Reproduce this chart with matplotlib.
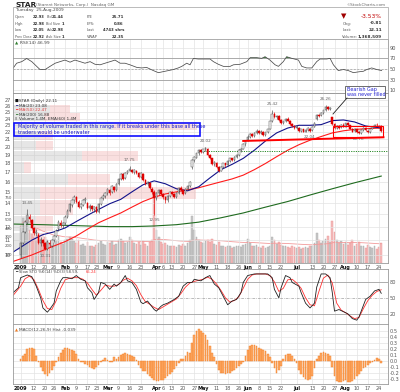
import pandas as pd
import matplotlib
matplotlib.use("Agg")
import matplotlib.pyplot as plt
from matplotlib.patches import Rectangle

LARG, ALT = 400, 392

# --- pregões jan-ago 2009 ---
FERIADOS = ["2009-01-19", "2009-02-16", "2009-04-10", "2009-05-25", "2009-07-03"]
dias = pd.bdate_range("2009-01-02", "2009-08-25")
dias = dias[~dias.isin(pd.to_datetime(FERIADOS))]

datas_eixo = ["2009-01-02", "2009-01-12", "2009-01-20", "2009-01-26", "2009-02-02", "2009-02-09",
              "2009-02-17", "2009-02-23", "2009-03-02", "2009-03-09", "2009-03-16", "2009-03-23",
              "2009-04-01", "2009-04-06", "2009-04-13", "2009-04-20", "2009-04-27", "2009-05-01",
              "2009-05-11", "2009-05-18", "2009-05-26", "2009-06-01", "2009-06-08", "2009-06-15",
              "2009-06-22", "2009-07-01", "2009-07-13", "2009-07-20", "2009-07-27", "2009-08-03",
              "2009-08-10", "2009-08-17", "2009-08-24"]
rotulos_eixo = ["2009", "12", "20", "26", "Feb", "9", "17", "23", "Mar", "9", "16", "23", "Apr", "6",
                "13", "20", "27", "May", "11", "18", "26", "Jun", "8", "15", "22", "Jul", "13", "20",
                "27", "Aug", "10", "17", "24"]
MESES = {"2009", "Feb", "Mar", "Apr", "May", "Jun", "Jul", "Aug"}

# --- OHLC diário ---
abertura = [10.0, 10.8, 11.6, 12.3, 12.8, 12.5, 11.9, 11.5, 11.4, 10.8, 11.0, 10.8, 10.4, 10.8, 10.6,
            11.0, 11.3, 11.8, 12.3, 12.1,
            12.3, 12.8, 13.3, 13.8, 14.2, 14.5, 14.1, 13.6, 13.8, 14.2, 14.0, 13.5, 13.7, 13.4, 13.6,
            13.2, 13.9, 14.4, 14.6,
            14.9, 15.2, 15.0, 15.5, 15.2, 15.8, 16.3, 16.8, 16.4, 16.9, 17.2, 17.3, 17.0, 17.2, 16.9,
            16.5, 16.8, 16.2, 15.8, 15.9, 15.3, 15.0,
            14.4, 14.9, 15.2, 14.8, 14.5, 14.2, 14.6, 15.0, 14.8, 14.5, 14.9, 15.4, 15.2, 14.9, 15.3,
            15.6, 17.6, 18.4, 18.7, 19.2, 19.6,
            19.4, 19.7, 19.8, 19.0, 18.6, 17.9, 18.1, 17.6, 17.2, 17.6, 18.0, 17.8, 18.3, 18.6, 18.4,
            18.8, 19.0, 19.6, 19.8, 20.4,
            20.9, 21.4, 21.8, 21.5, 21.9, 22.2, 21.9, 22.1, 21.6, 22.0, 22.5, 23.6, 24.7, 24.2, 24.4,
            23.8, 23.3, 23.6, 24.0, 23.7, 23.2, 22.9,
            22.6, 22.6, 22.2, 22.4, 22.1, 22.3, 22.5, 22.3, 22.8, 23.9, 24.6, 24.5, 24.9, 25.3, 25.9,
            25.5, 24.2, 23.2, 22.6, 22.9, 22.7, 23.1,
            22.8, 23.3, 23.0, 22.5, 22.2, 22.4, 22.0, 21.9, 22.3, 22.6, 22.2, 22.0, 22.5, 22.8, 23.1,
            22.9, 22.93]
maxima = [10.9, 11.7, 12.5, 13.45, 13.0, 12.6, 12.0, 11.8, 11.5, 11.2, 11.1, 10.9, 11.0, 11.0, 11.1,
          11.4, 11.8, 12.5, 12.5, 12.4,
          12.9, 13.4, 14.0, 14.3, 14.7, 14.6, 14.2, 14.0, 14.3, 14.5, 14.1, 13.9, 13.8, 13.7, 13.7,
          14.0, 14.5, 14.8, 15.0,
          15.4, 15.3, 15.7, 15.6, 15.9, 16.4, 16.9, 16.9, 17.0, 17.3, 17.75, 17.4, 17.4, 17.3, 17.0,
          17.0, 16.9, 16.3, 16.1, 16.0, 15.5, 15.2,
          15.0, 15.3, 15.3, 14.9, 14.6, 14.7, 15.1, 15.1, 14.9, 15.0, 15.5, 15.6, 15.3, 15.4, 15.7,
          16.1, 18.5, 18.9, 19.3, 19.7, 19.8,
          19.8, 20.02, 19.9, 19.1, 18.7, 18.3, 18.2, 17.7, 17.7, 18.1, 18.1, 18.4, 18.7, 18.7, 18.9,
          19.1, 19.7, 19.9, 20.5, 20.9,
          21.6, 21.9, 21.9, 22.0, 22.4, 22.3, 22.3, 22.2, 22.1, 22.5, 23.7, 25.42, 25.0, 24.6, 24.5,
          23.9, 23.7, 24.1, 24.2, 23.8, 23.3, 23.0,
          23.0, 22.7, 22.5, 22.5, 22.4, 22.7, 22.6, 22.9, 23.5, 24.7, 24.8, 25.0, 25.4, 26.26, 26.0,
          25.9, 24.3, 23.4, 23.0, 23.1, 23.2, 23.3,
          23.4, 23.5, 23.1, 22.6, 22.6, 22.5, 22.2, 22.4, 22.7, 22.7, 22.3, 22.6, 22.9, 23.2, 23.3,
          23.1, 22.98]
minima = [9.8, 10.7, 11.5, 12.2, 12.4, 11.8, 11.4, 11.3, 10.7, 10.6, 10.6, 10.31, 10.35, 10.5, 10.5,
          10.9, 11.2, 11.7, 12.0, 11.9,
          12.1, 12.7, 13.2, 13.6, 14.0, 14.0, 13.5, 13.4, 13.7, 14.0, 13.4, 13.3, 13.3, 13.2, 13.1,
          13.1, 13.8, 14.2, 14.4,
          14.7, 14.7, 14.9, 15.0, 15.1, 15.7, 16.2, 16.2, 16.3, 16.8, 17.1, 16.9, 16.8, 16.8, 16.4,
          16.4, 16.1, 15.7, 15.6, 15.3, 14.8, 12.95,
          14.2, 14.7, 14.7, 14.3, 14.0, 14.1, 14.5, 14.7, 14.4, 14.4, 14.8, 15.1, 14.7, 14.8, 15.2,
          15.5, 17.4, 18.2, 18.6, 19.0, 19.2,
          19.3, 19.5, 18.9, 18.5, 17.8, 17.7, 17.5, 17.0, 17.1, 17.5, 17.6, 17.7, 18.2, 18.3, 18.3,
          18.6, 18.9, 19.4, 19.7, 20.2,
          20.8, 21.2, 21.4, 21.4, 21.8, 21.8, 21.8, 21.5, 21.5, 21.9, 22.4, 23.5, 24.1, 24.0, 23.7,
          23.2, 23.2, 23.5, 23.6, 23.1, 22.8, 22.5,
          22.5, 22.1, 22.1, 22.05, 22.05, 22.2, 22.04, 22.2, 22.7, 23.8, 24.3, 24.4, 24.8, 25.2, 25.4,
          25.4, 23.0, 22.5, 22.4, 22.5, 22.6, 22.7,
          22.7, 22.9, 22.4, 22.0, 22.1, 21.9, 21.76, 21.8, 22.2, 22.2, 21.9, 21.9, 22.4, 22.7, 22.9,
          22.7, 22.05]
fechamento = [10.8, 11.6, 12.4, 12.9, 12.6, 11.9, 11.5, 11.6, 10.8, 11.0, 10.8, 10.4, 10.9, 10.7, 11.0,
              11.3, 11.7, 12.4, 12.1, 12.3,
              12.8, 13.3, 13.9, 14.2, 14.5, 14.1, 13.6, 13.9, 14.2, 14.3, 13.5, 13.7, 13.4, 13.6, 13.2,
              13.9, 14.4, 14.6, 14.9,
              15.3, 14.9, 15.6, 15.2, 15.8, 16.3, 16.8, 16.3, 16.9, 17.2, 17.4, 17.0, 17.3, 16.9, 16.5,
              16.9, 16.2, 15.8, 16.0, 15.4, 15.0, 14.4,
              14.9, 15.2, 14.8, 14.5, 14.2, 14.6, 15.0, 14.8, 14.5, 14.9, 15.4, 15.2, 14.8, 15.3, 15.6,
              16.0, 18.4, 18.8, 19.2, 19.6, 19.4,
              19.7, 19.9, 19.0, 18.6, 17.9, 18.2, 17.6, 17.2, 17.6, 18.0, 17.8, 18.3, 18.6, 18.4, 18.8,
              19.0, 19.6, 19.8, 20.4, 20.8,
              21.4, 21.8, 21.5, 21.9, 22.2, 21.9, 22.1, 21.6, 22.0, 22.4, 23.6, 24.7, 24.3, 24.4, 23.8,
              23.3, 23.6, 24.0, 23.7, 23.2, 22.9, 22.6,
              22.8, 22.2, 22.4, 22.1, 22.3, 22.6, 22.2, 22.8, 23.4, 24.6, 24.4, 24.9, 25.3, 25.8, 25.5,
              25.7, 23.2, 22.6, 22.9, 22.6, 23.1, 22.8,
              23.3, 23.0, 22.5, 22.1, 22.5, 22.0, 21.9, 22.3, 22.6, 22.3, 22.0, 22.5, 22.8, 23.1, 23.0,
              22.92, 22.11]
volume = [420, 520, 480, 560, 380, 330, 300, 260, 340, 280, 250, 300, 270, 220, 200, 230, 260, 310, 240, 220,
          260, 280, 300, 280, 250, 230, 260, 210, 220, 200, 240, 190, 200, 180, 210, 230, 250, 220, 210,
          240, 230, 250, 210, 220, 260, 280, 250, 230, 240, 300, 260, 230, 220, 240, 210, 250, 220, 200,
          240, 260, 820,
          380, 300, 240, 220, 230, 210, 200, 190, 200, 180, 210, 190, 220, 200, 230, 260, 540, 380, 300,
          260, 240,
          230, 250, 260, 240, 280, 220, 210, 240, 200, 190, 180, 200, 190, 170, 180, 190, 200, 180, 210, 220,
          280, 230, 200, 190, 210, 180, 170, 190, 170, 180, 200, 300, 260, 220, 240, 210, 190, 200, 180,
          170, 190, 180,
          170, 180, 160, 170, 180, 170, 190, 200, 230, 340, 260, 230, 250, 280, 310, 240, 480, 360, 270,
          230, 250, 220,
          240, 210, 230, 260, 200, 220, 240, 190, 200, 170, 210, 180, 170, 190, 160, 180, 230]
macd_hist = [0.04, 0.08, 0.12, 0.19, 0.21, 0.21, 0.19, 0.08,
             -0.02, -0.10, -0.17, -0.22, -0.24, -0.20, -0.15, -0.08,
             -0.01, 0.06, 0.13, 0.18, 0.22, 0.21, 0.19, 0.18, 0.17, 0.11, 0.04,
             -0.01, -0.02, -0.05, -0.07, -0.10, -0.12, -0.13, -0.10, -0.06, -0.01,
             0.02, 0.05, 0.01, -0.02, -0.01,
             0.06, 0.04, 0.07, 0.10, 0.12, 0.13, 0.12, 0.10, 0.08, 0.06, 0.02,
             -0.06, -0.12, -0.16, -0.17, -0.21, -0.25, -0.28, -0.31, -0.32, -0.32, -0.31, -0.31, -0.28,
             -0.24, -0.21, -0.18, -0.13, -0.08, -0.03,
             0.03, 0.04, 0.08, 0.14, 0.13, 0.29, 0.43, 0.50, 0.52, 0.50, 0.46, 0.42, 0.35, 0.25, 0.13, 0.06,
             -0.05, -0.15, -0.20, -0.20, -0.21, -0.20, -0.19, -0.17, -0.14, -0.12, -0.08, -0.05, -0.02,
             0.08, 0.18, 0.25, 0.27, 0.26, 0.24, 0.21, 0.19, 0.18, 0.16, 0.12, 0.06,
             -0.04, -0.12, -0.19, -0.14, -0.08,
             0.04, 0.10, 0.12, 0.11, 0.08, 0.03,
             -0.04, -0.14, -0.22, -0.27, -0.30, -0.31, -0.29, -0.24, -0.12,
             0.03, 0.09, 0.13, 0.14, 0.13, 0.12, 0.08,
             -0.09, -0.24, -0.32, -0.35, -0.34, -0.33, -0.31, -0.34, -0.35, -0.33, -0.29, -0.24, -0.21,
             -0.16, -0.12, -0.09, -0.06, -0.03, -0.01,
             0.02, 0.05, 0.03, -0.039]

# --- médias móveis (índice do pregão, preço) ---
ma20_pts = [(-3.3, 10.2), (5, 11.0), (10, 11.4), (15, 11.6), (20, 11.9), (25, 12.4), (30, 12.9),
            (35, 13.4), (40, 13.9), (45, 14.3), (50, 15.0), (55, 15.7), (60, 16.1), (65, 15.8),
            (70, 15.3), (75, 15.1), (80, 15.5), (85, 16.4), (90, 17.3), (95, 17.9), (100, 18.6),
            (105, 19.6), (110, 20.8), (115, 21.9), (120, 22.6), (125, 23.0), (130, 23.0), (135, 23.1),
            (140, 23.7), (145, 23.8), (150, 23.5), (155, 22.9), (162, 22.6)]
ma50_pts = [(-3.3, 9.6), (5, 10.0), (10, 10.3), (15, 10.6), (20, 10.9), (25, 11.3), (30, 11.8),
            (35, 12.3), (40, 12.7), (45, 13.1), (50, 13.6), (55, 14.1), (60, 14.5), (65, 14.8),
            (70, 15.0), (75, 15.2), (80, 15.4), (85, 15.7), (90, 16.0), (95, 16.3), (100, 16.7),
            (105, 17.3), (110, 18.0), (115, 18.8), (120, 19.6), (125, 20.3), (130, 20.9), (135, 21.4),
            (140, 21.9), (145, 22.2), (150, 22.4), (155, 22.5), (162, 22.6)]
ma200_pts = [(-3.3, 12.2), (10, 12.15), (20, 12.1), (30, 12.05), (40, 12.0), (50, 12.0), (60, 12.05),
             (70, 12.15), (80, 12.35), (90, 12.7), (100, 13.1), (110, 13.6), (120, 14.1), (130, 14.7),
             (140, 15.3), (150, 15.9), (162, 16.6)]

rsi_pts = [(-3.3, 52), (-1.8, 61), (0.5, 64), (2.7, 70), (5, 64), (7.2, 55), (8.7, 49), (11, 49),
           (13.2, 55), (15.5, 61), (17.7, 64), (19.9, 67), (22.2, 63), (24.4, 67), (26.7, 64), (28.9, 61),
           (31.2, 64), (33.4, 59), (35.7, 58), (37.9, 61), (40.2, 64), (42.4, 67), (44.7, 61), (46.9, 61),
           (49.1, 58), (52.2, 53), (54.4, 52), (56.6, 53), (59.6, 47), (61.9, 43), (64.1, 45), (66.4, 47),
           (68.6, 49), (70.8, 52), (72.4, 55), (74.6, 61), (76.1, 58), (77.6, 70), (79.8, 69), (85.1, 69),
           (86.6, 64), (88.8, 59), (91.1, 55), (94.1, 55), (95.6, 58), (98.6, 59), (101.6, 64),
           (103.1, 71.5), (106.1, 71.5), (108.3, 70.3), (109.8, 73.4), (112, 67), (114.3, 58), (115.8, 55),
           (118, 64), (119.5, 73.4), (121.8, 70.3), (124.8, 67), (126.3, 55), (128.5, 52), (130.8, 52),
           (133, 64), (134.5, 69), (137.5, 69), (139, 70.3), (140.5, 58), (142.7, 47), (145, 49),
           (147.2, 47), (149.5, 43), (151.7, 44.5), (154, 45.7), (155.5, 49), (157.7, 52), (160, 49),
           (162.2, 47)]

stok_pts = [(-3.3, 60), (-1, 69), (0, 88), (3, 93), (5, 90), (7, 72), (9, 50), (10, 31), (12, 23), (13, 28),
            (15, 40), (16, 63), (18, 82), (19, 88), (21, 88), (23, 86), (25, 92), (27, 85), (29, 82), (30, 69),
            (32, 60), (33, 47), (35, 60), (36, 79), (38, 76), (40, 66), (42, 76), (43, 72), (45, 79), (47, 92),
            (48, 82), (50, 79), (52, 66), (54, 42), (55, 39), (57, 44), (60, 28), (61, 25), (63, 34), (64, 37),
            (66, 40), (69, 47), (71, 53), (73, 72), (75, 79), (77, 79), (78, 85), (81, 82), (83, 88), (85, 92),
            (87, 76), (89, 69), (91, 53), (93, 37), (95, 44), (97, 47), (99, 60), (100, 79), (102, 92),
            (105, 95), (108, 95), (111, 95), (113, 88), (114, 66), (116, 50), (117, 69), (119, 92), (121, 88),
            (122, 79), (125, 72), (126, 60), (128, 40), (130, 31), (132, 40), (133, 70), (135, 95), (137, 95),
            (139, 88), (140, 60), (141, 25), (143, 28), (145, 24), (147, 20), (149, 11), (151, 8), (152, 14),
            (155, 47), (157, 53), (159, 63), (161, 66), (162, 58.59)]
stod_pts = [(-3.3, 55), (0, 72), (2, 86), (4, 91), (6, 84), (8, 66), (10, 45), (12, 30), (14, 28), (16, 45),
            (18, 68), (20, 84), (22, 87), (24, 88), (26, 88), (28, 85), (30, 78), (32, 66), (34, 55), (36, 64),
            (38, 74), (40, 72), (42, 72), (44, 75), (46, 83), (48, 87), (50, 82), (52, 73), (54, 56), (56, 43),
            (58, 38), (60, 32), (62, 28), (64, 33), (66, 38), (68, 43), (70, 48), (72, 58), (74, 70), (76, 78),
            (78, 81), (80, 83), (82, 85), (84, 89), (86, 85), (88, 76), (90, 64), (92, 50), (94, 42), (96, 45),
            (98, 52), (100, 68), (102, 85), (104, 93), (106, 95), (108, 95), (110, 95), (112, 92), (114, 80),
            (116, 62), (118, 68), (120, 84), (122, 85), (124, 78), (126, 68), (128, 50), (130, 37), (132, 35),
            (134, 62), (136, 87), (138, 93), (140, 78), (142, 40), (144, 27), (146, 22), (148, 16), (150, 11),
            (152, 13), (154, 30), (156, 45), (158, 55), (160, 62), (162, 65.24)]

# volume por faixa de preço
vbp_inf = [10.31, 11.64, 12.97, 14.30, 15.63, 16.96, 18.29, 19.62, 20.95, 22.27, 23.60, 24.93]
vbp_sup = [11.64, 12.97, 14.30, 15.63, 16.96, 18.29, 19.62, 20.95, 22.27, 23.60, 24.93, 26.26]
vbp_cinza = [8, 10, 12, 12, 24.6, 5, 31, 10, 12, 44.8, 14, 16.5]
vbp_rosa = [6, 8, 14.8, 70, 18.9, 3, 25, 8, 6, 37.7, 16, 9]

rotulos_preco = [(3, "13.45", "h"), (11, "10.31", "l"), (49, "17.75", "h"), (60, "12.95", "l"),
                 (83, "20.02", "h"), (113, "25.42", "h"), (130, "22.04", "l"), (137, "26.26", "h"),
                 (152, "21.76", "l")]

vol_ticks = [100, 200, 300, 400, 500, 750]

n = len(dias)
for nome, serie in [("abertura", abertura), ("maxima", maxima), ("minima", minima),
                    ("fechamento", fechamento), ("volume", volume), ("macd_hist", macd_hist)]:
    assert len(serie) == n, (nome, len(serie), n)

pos_eixo = [dias.get_loc(pd.Timestamp(d)) for d in datas_eixo]
XMIN, XMAX = -3.3, 164.9
CINZA = "#555555"
GRADE = "#e3e3e3"

fig = plt.figure(figsize=(LARG / 100, ALT / 100), dpi=100)
fig.patch.set_facecolor("white")


def eixo(y0, y1):
    ax = fig.add_axes([13.3 / LARG, 1 - y1 / ALT, 374.4 / LARG, (y1 - y0) / ALT])
    ax.set_xlim(XMIN, XMAX)
    for s in ax.spines.values():
        s.set_color("#9a9a9a")
        s.set_linewidth(0.6)
    ax.set_xticks(pos_eixo)
    ax.set_xticklabels([])
    ax.grid(axis="x", color=GRADE, lw=0.5)
    ax.tick_params(length=0, labelsize=3.6, colors=CINZA, pad=1.5)
    ax.yaxis.tick_right()
    ax.set_axisbelow(True)
    return ax


def texto(x, y, s, **kw):
    kw.setdefault("fontsize", 3.1)
    kw.setdefault("va", "center")
    kw.setdefault("color", "#333333")
    return fig.text(x / LARG, 1 - y / ALT, s, **kw)


def rotulos_data(ax):
    ax.set_xticklabels(rotulos_eixo)
    for t in ax.get_xticklabels():
        if t.get_text() in MESES:
            t.set_fontweight("bold")
            t.set_color("#111111")
    ax.tick_params(axis="x", pad=1.2, labelsize=3.5)


# ---------- cabeçalho ----------
texto(15, 5, "STAR", fontsize=5.3, fontweight="bold", color="#222222")
texto(36, 5.3, "(Starent Networks, Corp.)  Nasdaq GM", fontsize=3.0, color="#666666")
texto(386, 4.5, "©StockCharts.com", fontsize=3.0, color="#666666", ha="right")
fig.patches.append(Rectangle((13.3 / LARG, 1 - 39 / ALT), 374.4 / LARG, 32 / ALT,
                             transform=fig.transFigure, fill=False, ec="#b0b0b0", lw=0.6))
texto(16, 10.5, "Tuesday  25-Aug-2009", color="#444444")
linhas = [("Open", "22.93", "Bid", "21.44", "P/E", "25.71"),
          ("High", "22.98", "Bid Size", "1", "EPS:", "0.86"),
          ("Low", "22.05", "Ask", "22.98", "Last", "4743 shrs"),
          ("Prev Close", "22.92", "Ask Size", "1", "VWAP", "22.35")]
for k, (a, b, c, d, e, f) in enumerate(linhas):
    y = 17 + k * 6.7
    texto(15, y, a, color="#555555", fontsize=2.3 if len(a) > 6 else 2.6)
    texto(44.5, y, b, ha="right", fontweight="bold", fontsize=2.7)
    texto(46.5, y, c, color="#555555", fontsize=2.5)
    texto(64, y, d, ha="right", fontweight="bold", fontsize=2.7)
    texto(87, y, e, color="#555555", fontsize=2.7)
    texto(124, y, f, ha="right", fontweight="bold", fontsize=2.8)
texto(344, 16.5, "▼", color="#a00000", fontsize=5, ha="center")
texto(382, 16.7, "-3.53%", color="#c00000", fontsize=4.2, ha="right")
texto(343, 23.5, "Chg:", color="#555555", fontsize=2.8)
texto(382, 23.5, "-0.81", ha="right", fontweight="bold")
texto(343, 30.2, "Last:", color="#555555", fontsize=2.8)
texto(382, 30.2, "22.11", ha="right", fontweight="bold")
texto(342, 36.8, "Volume:", color="#555555", fontsize=2.8)
texto(382, 36.8, "1,368,509", ha="right", fontweight="bold")

# ---------- RSI ----------
ax_rsi = eixo(39, 93)
ax_rsi.set_ylim(4.3, 107.1)
ax_rsi.set_yticks([90, 70, 50, 30, 10])
ax_rsi.grid(axis="y", color=GRADE, lw=0.5)
ax_rsi.axhline(70, color="#a0a0a0", lw=0.6)
ax_rsi.axhline(30, color="#a0a0a0", lw=0.6)
ax_rsi.axhline(50, color="#a0a0a0", lw=0.5, ls=(0, (3, 2)))
rsi_x = [p[0] for p in rsi_pts]
rsi_y = [p[1] for p in rsi_pts]
ax_rsi.fill_between(rsi_x, 70, rsi_y, where=[v > 70 for v in rsi_y], interpolate=True,
                    color="#3a8a3a", lw=0)
ax_rsi.plot(rsi_x, rsi_y, color="#4a4a4a", lw=0.55)
texto(15, 43.5, "▲", color="#2e7d2e", fontsize=3.0)
texto(19.5, 43.5, "RSI(14) 46.99", color="#444444", fontsize=3.2)

# ---------- preço ----------
ax_p = eixo(93, 263)
ax_v = ax_p.twinx()
ax_p.set_zorder(ax_v.get_zorder() + 1)
ax_p.patch.set_visible(False)
ax_v.set_xlim(XMIN, XMAX)
ax_v.set_ylim(0, 1954)
ax_v.yaxis.tick_left()
ax_v.set_yticks(vol_ticks)
ax_v.set_yticklabels([str(v) for v in vol_ticks])
ax_v.tick_params(length=0, labelsize=2.8, colors=CINZA, pad=0.8)
for s in ax_v.spines.values():
    s.set_visible(False)

sobe = [i == 0 or fechamento[i] >= fechamento[i - 1] for i in range(n)]
ax_v.bar(range(n), volume, width=0.8,
         color=["#c8c8c8" if s else "#f5bcbc" for s in sobe],
         edgecolor=["#ababab" if s else "#e89595" for s in sobe], lw=0.3)
ema_vol = pd.Series(volume).ewm(span=60).mean()
ax_v.plot(range(n), ema_vol, color="#f29a9a", lw=0.6)

ax_p.set_yscale("log")
ax_p.set_ylim(9.50, 28.3)
precos = list(range(10, 28))
ax_p.set_yticks(precos)
ax_p.set_yticklabels([str(p) for p in precos])
ax_p.minorticks_off()
ax_p.tick_params(axis="y", which="both", length=0)
ax_p.grid(axis="y", color=GRADE, lw=0.5)

# volume por preço
for lo, hi, g, r in zip(vbp_inf, vbp_sup, vbp_cinza, vbp_rosa):
    ax_p.barh(lo, g, height=(hi - lo) * 0.92, left=XMIN, align="edge", color="#c4c4c4",
              alpha=0.42, lw=0, zorder=1)
    ax_p.barh(lo, r, height=(hi - lo) * 0.92, left=XMIN + g, align="edge", color="#f2b4b4",
              alpha=0.42, lw=0, zorder=1)

for pts, cor in [(ma200_pts, "#1f6b1f"), (ma50_pts, "#ff1a1a"), (ma20_pts, "#12128a")]:
    ax_p.plot([p[0] for p in pts], [p[1] for p in pts], color=cor, lw=0.8, zorder=2)

for i in range(n):
    o, h, l, c = abertura[i], maxima[i], minima[i], fechamento[i]
    cor = "#4a4a4a" if sobe[i] else "#e00000"
    ax_p.vlines(i, l, h, color=cor, lw=0.45, zorder=3)
    base, topo = min(o, c), max(o, c)
    if topo - base < 0.03:
        topo = base + 0.03
    ax_p.bar(i, topo - base, bottom=base, width=0.7,
             facecolor="white" if c >= o else cor, edgecolor=cor, lw=0.35, zorder=4)

for i, rot, tipo in rotulos_preco:
    if tipo == "h":
        ax_p.annotate(rot, (i, maxima[i]), xytext=(0, 2.5), textcoords="offset points",
                      ha="center", va="bottom", fontsize=3.0, color="#666666", zorder=5)
    else:
        ax_p.annotate(rot, (i, minima[i]), xytext=(0, -2.5), textcoords="offset points",
                      ha="center", va="top", fontsize=3.0, color="#666666", zorder=5)

# linhas desenhadas pelo analista
ax_p.plot([80, 164.5], [19.55, 19.55], color="#2a8a2a", lw=0.7, ls=(0, (1.2, 1.2)), zorder=2)
ax_p.plot([100, 163], [20.8, 21.3], color="#ff0000", lw=1.4, zorder=5)
ax_p.add_patch(Rectangle((140.5, 21.35), 22.5, 1.5, fill=False, ec="#ff0000", lw=0.8, zorder=5))

# legenda
leg = [("■", "#111111", "STAR (Daily) 22.11", "#333333"),
       ("━", "#12128a", "MA(20) 23.08", "#333333"),
       ("━", "#ff1a1a", "MA(50) 22.47", "#e04040"),
       ("━", "#1f6b1f", "MA(200) 16.88", "#333333"),
       ("▮", "#999999", "Volume 1.4M, EMA(60) 1.4M", "#333333")]
for k, (simb, cs, s, ct) in enumerate(leg):
    y = 101 + k * 4.6
    texto(15, y, simb, color=cs, fontsize=2.8)
    texto(19, y, s, color=ct, fontsize=3.0)

fig.patches.append(Rectangle((14 / LARG, 1 - 135.5 / ALT), 186 / LARG, 13 / ALT,
                             transform=fig.transFigure, fill=False, ec="#1010ff", lw=1.2))
texto(18, 126.3, "Majority of volume traded in this range. If it breaks under this base all these",
      color="#1a1acc", fontsize=3.5)
texto(18, 132.3, "traders would be underwater", color="#1a1acc", fontsize=3.5)

fig.patches.append(Rectangle((345 / LARG, 1 - 98 / ALT), 40 / LARG, 12 / ALT,
                             transform=fig.transFigure, fc="white", ec="#555555", lw=0.6, zorder=10))
texto(347, 89, "Bearish Gap", color="#2020d0", fontsize=3.5, zorder=11)
texto(347, 95, "was never filled", color="#2020d0", fontsize=3.5, zorder=11)
fig.lines.append(plt.Line2D([347 / LARG, 333 / LARG], [1 - 98 / ALT, 1 - 114 / ALT],
                            transform=fig.transFigure, color="#222222", lw=0.6, zorder=11))

rotulos_data(ax_p)

# ---------- Slow STO ----------
ax_sto = eixo(269, 324)
ax_sto.set_ylim(0.8, 104.3)
ax_sto.set_yticks([80, 50, 20])
ax_sto.axhline(80, color="#a0a0a0", lw=0.6)
ax_sto.axhline(20, color="#a0a0a0", lw=0.6)
ax_sto.axhline(50, color="#a0a0a0", lw=0.5, ls=(0, (4, 1.5, 1, 1.5)))
ax_sto.plot([p[0] for p in stod_pts], [p[1] for p in stod_pts], color="#ff3030", lw=0.6)
ax_sto.plot([p[0] for p in stok_pts], [p[1] for p in stok_pts], color="#202020", lw=0.6)
texto(15, 272, "━", color="#202020", fontsize=2.8)
texto(19, 272, "Slow STO %K(14) %D(3) 58.59,", color="#444444", fontsize=2.7)
texto(86, 272, "65.24", color="#ff3030", fontsize=2.7)

# ---------- MACD ----------
ax_m = eixo(324, 384)
ax_m.set_ylim(-0.377, 0.607)
niveis = [0.5, 0.4, 0.3, 0.2, 0.1, 0.0, -0.1, -0.2, -0.3]
ax_m.set_yticks(niveis)
ax_m.set_yticklabels([f"{v:.1f}" for v in niveis])
ax_m.grid(axis="y", color=GRADE, lw=0.5)
ax_m.bar(range(n), macd_hist, width=0.75, color="#ffab66", edgecolor="#f07a20", lw=0.3)
texto(15, 330, "▲", color="#f07a20", fontsize=2.8)
texto(19, 330, "MACD(12,26,9) Hist -0.039", color="#444444", fontsize=3.1)
rotulos_data(ax_m)

fig.savefig("out.png", dpi=100, facecolor="white")
